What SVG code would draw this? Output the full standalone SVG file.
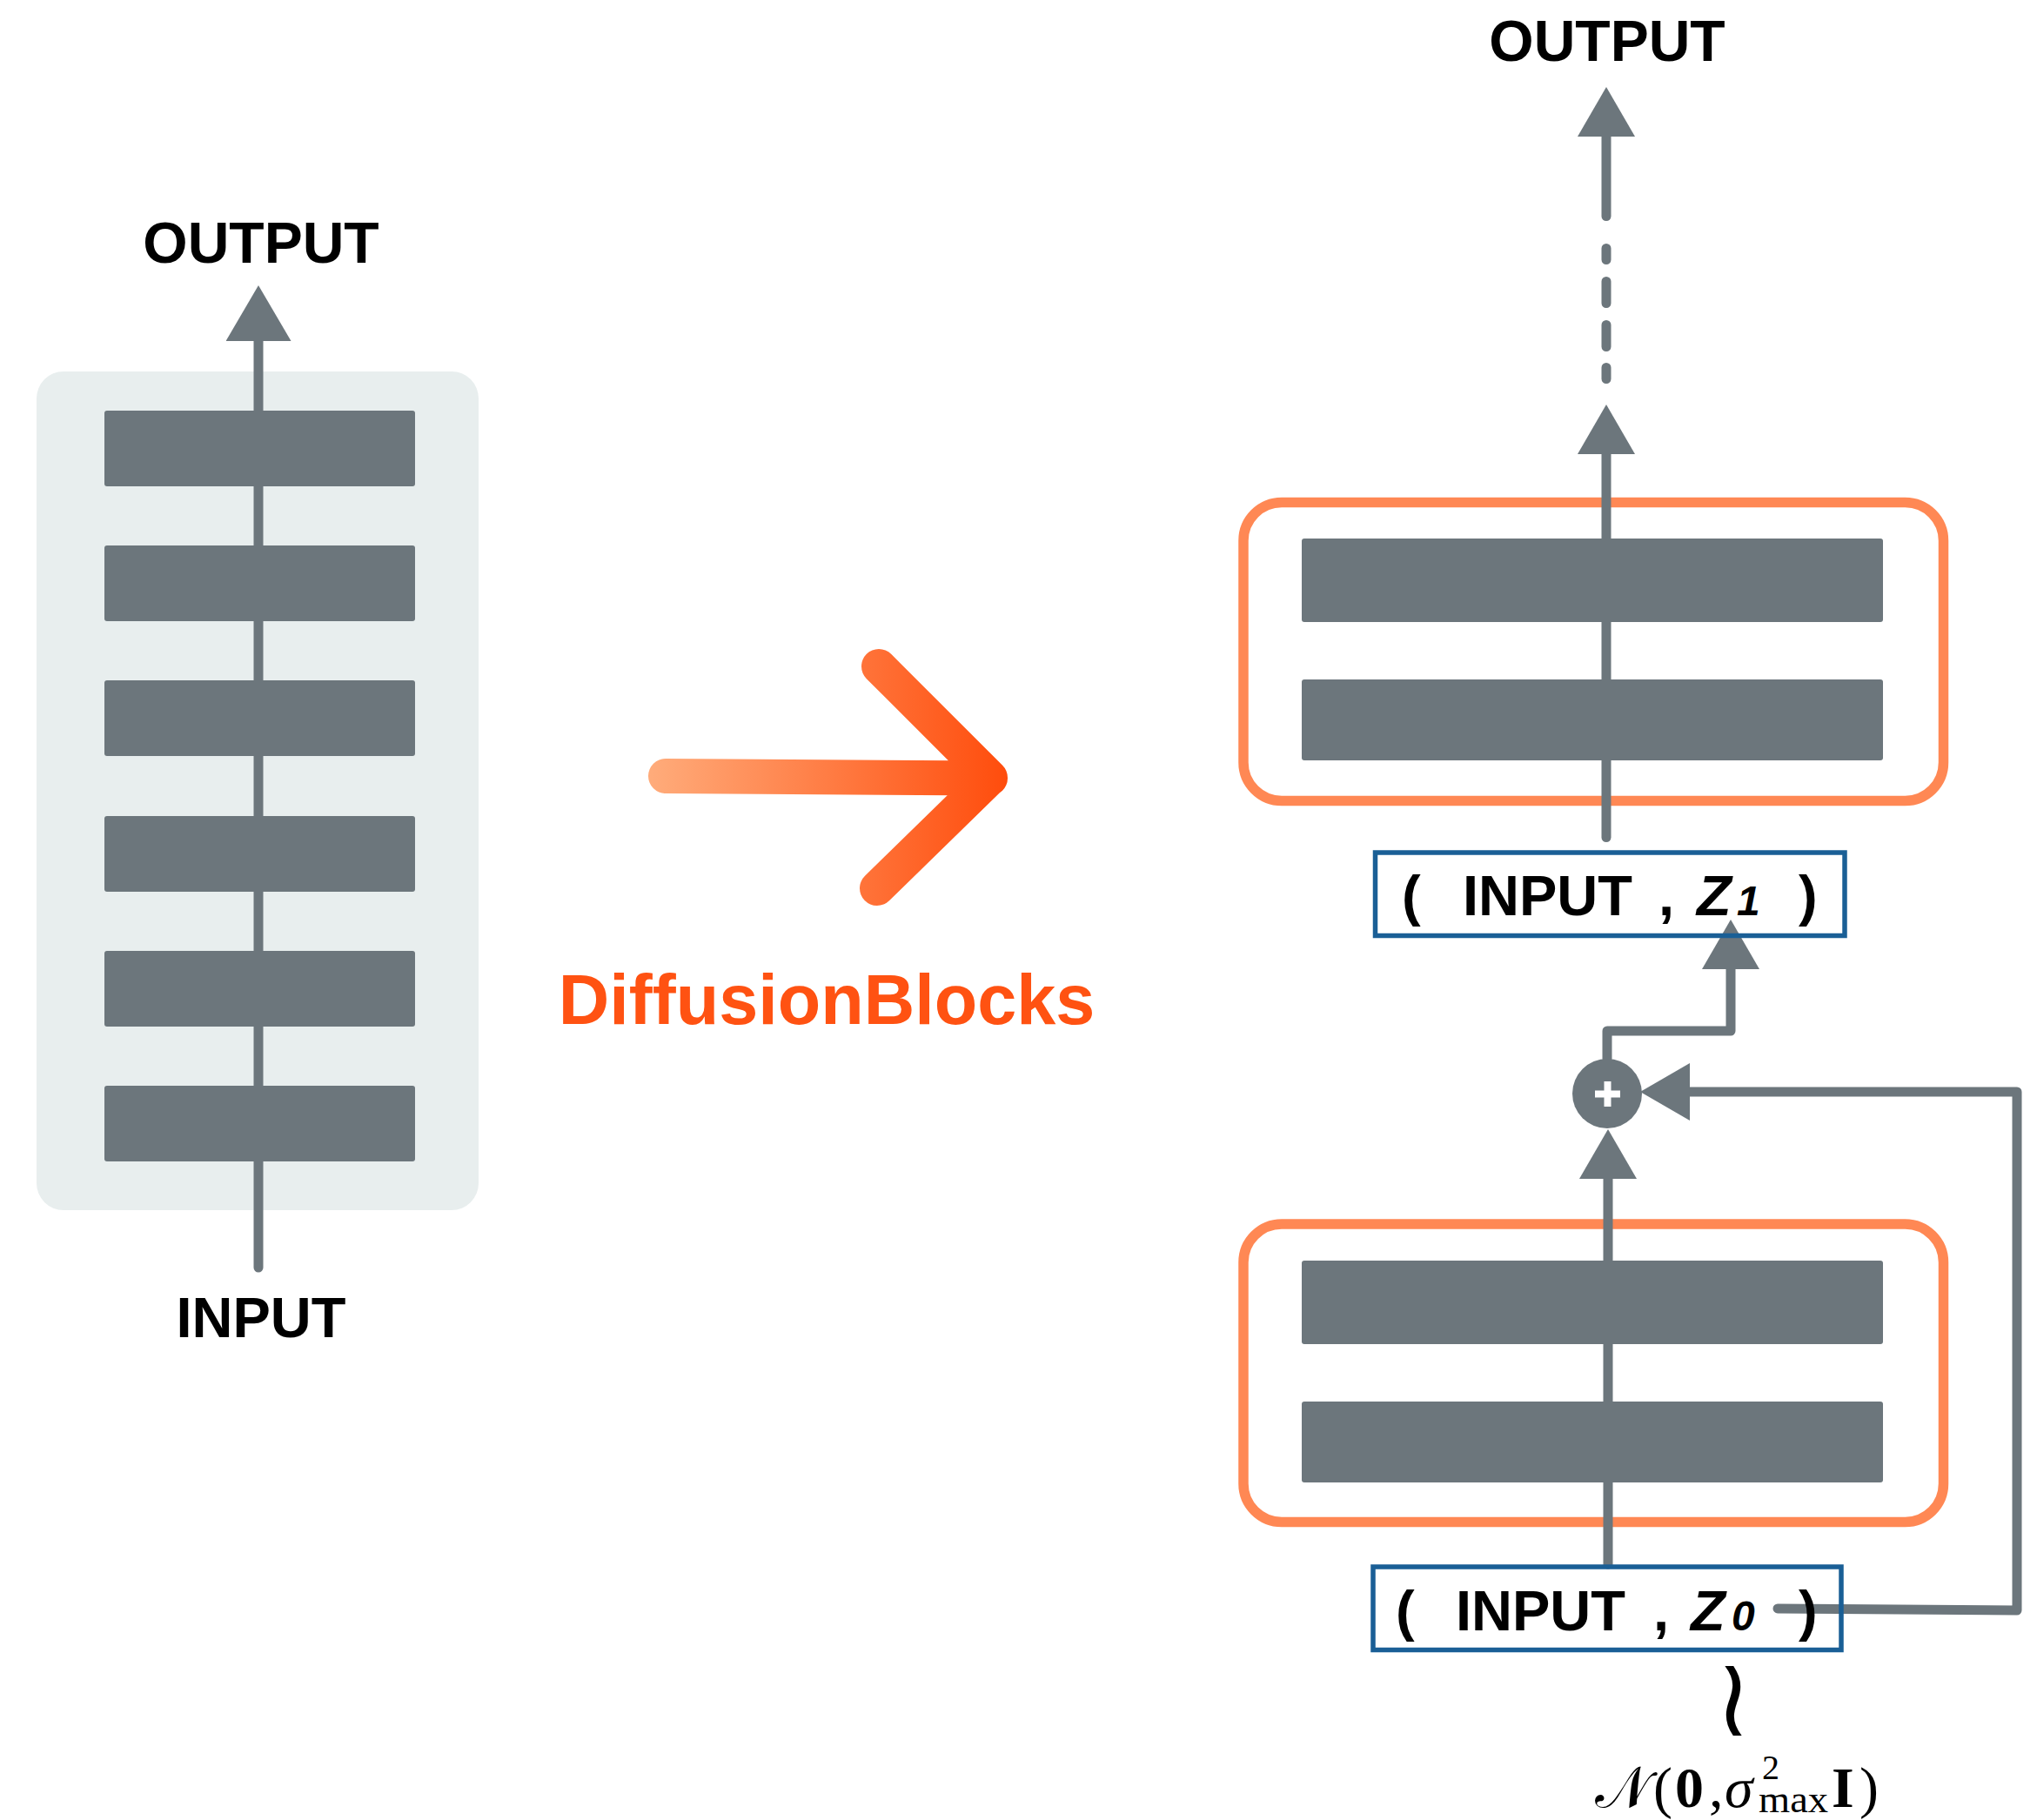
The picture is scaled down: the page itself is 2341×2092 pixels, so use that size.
<svg xmlns="http://www.w3.org/2000/svg" width="2341" height="2092" viewBox="0 0 2341 2092">
  <defs>
    <linearGradient id="arrowGrad" gradientUnits="userSpaceOnUse" x1="745" y1="0" x2="1160" y2="0">
      <stop offset="0" stop-color="#ffac7b"/>
      <stop offset="1" stop-color="#ff4c0c"/>
    </linearGradient>
    <marker id="head" markerUnits="userSpaceOnUse" viewBox="0 0 57 66" markerWidth="57" markerHeight="66" refX="0" refY="33" orient="auto">
      <path d="M0,0 L57,33 L0,66 z" fill="#6c767c"/>
    </marker>
    <marker id="head-lg" markerUnits="userSpaceOnUse" viewBox="0 0 64 75" markerWidth="64" markerHeight="75" refX="0" refY="37.5" orient="auto">
      <path d="M0,0 L64,37.5 L0,75 z" fill="#6c767c"/>
    </marker>
  </defs>
  <style>
    .label { font-family: "Liberation Sans", Arial, sans-serif; font-weight: bold; fill: #000; }
    .block { fill: #6c767c; }
    .wire { fill: none; stroke: #6c767c; stroke-width: 11; stroke-linecap: round; stroke-linejoin: round; }
    .stage { fill: none; stroke: #ff8854; stroke-width: 11.5; }
    .tuple { fill: none; stroke: #1a5f96; stroke-width: 5.5; }
    .math { font-family: "Liberation Serif", "DejaVu Serif", serif; fill: #000; }
  </style>

  <!-- left: monolithic network -->
  <g id="network-panel">
    <rect x="42" y="427" width="508" height="964" rx="31" fill="#e8eeee"/>
  </g>

  <!-- right: stage frames -->
  <g id="stage-top">
    <rect class="stage" x="1429" y="577.5" width="804.5" height="343" rx="44"/>
  </g>
  <g id="stage-bottom">
    <rect class="stage" x="1429" y="1407" width="804.5" height="342.5" rx="44"/>
  </g>

  <!-- connectors -->
  <g id="connectors">
    <path class="wire" d="M297 1457 V392" marker-end="url(#head-lg)"/>
    <path class="wire" d="M1846 962.5 V522" marker-end="url(#head)"/>
    <path class="wire" d="M1846 298.5 V285.5 M1846 348.5 V323.5 M1846 398.5 V373.5 M1846 435.5 V422.5"/>
    <path class="wire" d="M1846 248.5 V157" marker-end="url(#head)"/>
    <path class="wire" d="M1848 1798 V1355" marker-end="url(#head)"/>
    <path class="wire" d="M1847 1217 V1185 H1989 V1114" marker-end="url(#head)"/>
    <path class="wire" d="M2043 1849 L2318 1851 V1255 H1942" marker-end="url(#head)"/>
  </g>

  <!-- left blocks -->
  <g id="layers-left">
    <rect class="block" x="120" y="472" width="357" height="87" rx="3"/>
    <rect class="block" x="120" y="627" width="357" height="87" rx="3"/>
    <rect class="block" x="120" y="782" width="357" height="87" rx="3"/>
    <rect class="block" x="120" y="938" width="357" height="87" rx="3"/>
    <rect class="block" x="120" y="1093" width="357" height="87" rx="3"/>
    <rect class="block" x="120" y="1248" width="357" height="87" rx="3"/>
  </g>
  <g id="label-left-output">
    <text class="label" x="300" y="302" font-size="66" text-anchor="middle">OUTPUT</text>
  </g>
  <g id="label-left-input">
    <text class="label" x="300" y="1537" font-size="65" text-anchor="middle">INPUT</text>
  </g>

  <!-- middle: transformation arrow -->
  <g id="transform-arrow">
    <path d="M765 892 L1138 894.5 M1010 766 L1138 894 L1008 1021" fill="none" stroke="url(#arrowGrad)" stroke-width="40" stroke-linecap="round" stroke-linejoin="round"/>
    <text x="950" y="1177" font-family="Liberation Sans, Arial, sans-serif" font-weight="bold" font-size="81" fill="#ff5212" text-anchor="middle">DiffusionBlocks</text>
  </g>

  <!-- right blocks -->
  <g id="layers-top">
    <rect class="block" x="1496" y="619" width="668" height="96" rx="3"/>
    <rect class="block" x="1496" y="781" width="668" height="93" rx="3"/>
  </g>
  <g id="layers-bottom">
    <rect class="block" x="1496" y="1449" width="668" height="96" rx="3"/>
    <rect class="block" x="1496" y="1611" width="668" height="93" rx="3"/>
  </g>

  <g id="label-right-output">
    <text class="label" x="1847" y="70" font-size="66" text-anchor="middle">OUTPUT</text>
  </g>

  <g id="tuple-z1">
    <rect class="tuple" x="1580.5" y="980" width="539.5" height="95.5"/>
    <text class="label" font-size="65" y="1052"><tspan x="1611">(</tspan><tspan x="1681">INPUT</tspan><tspan x="1906">,</tspan><tspan x="1950" font-style="italic">Z</tspan><tspan x="1996" font-style="italic" font-size="48">1</tspan><tspan x="2067">)</tspan></text>
  </g>

  <g id="tuple-z0">
    <rect class="tuple" x="1578" y="1801" width="538" height="95.5"/>
    <text class="label" font-size="65" y="1874"><tspan x="1604">(</tspan><tspan x="1673">INPUT</tspan><tspan x="1900">,</tspan><tspan x="1943" font-style="italic">Z</tspan><tspan x="1990" font-style="italic" font-size="48">0</tspan><tspan x="2067">)</tspan></text>
  </g>

  <g id="sum">
    <circle cx="1847" cy="1257" r="40" fill="#6c767c"/>
    <path d="M1833 1257.5 H1862 M1847.5 1243 V1272" stroke="#fff" stroke-width="8" fill="none"/>
  </g>

  <g id="noise-prior">
    <text class="math" x="1992" y="1982" font-size="80" text-anchor="middle" font-family="DejaVu Serif, serif" transform="translate(1992 1960) scale(1.4 1.6) translate(-1992 -1960)">≀</text>
    <text class="math" y="2077" font-size="66"><tspan x="1833">𝒩</tspan><tspan x="1900">(</tspan><tspan x="1925" font-weight="bold">0</tspan><tspan x="1964">,</tspan><tspan x="1982" font-style="italic">σ</tspan><tspan x="2025" y="2045" font-size="40">2</tspan><tspan x="2021" y="2083" font-size="44" textLength="80" lengthAdjust="spacingAndGlyphs">max</tspan><tspan x="2105" y="2077" font-weight="bold">I</tspan><tspan x="2137">)</tspan></text>
  </g>
</svg>
